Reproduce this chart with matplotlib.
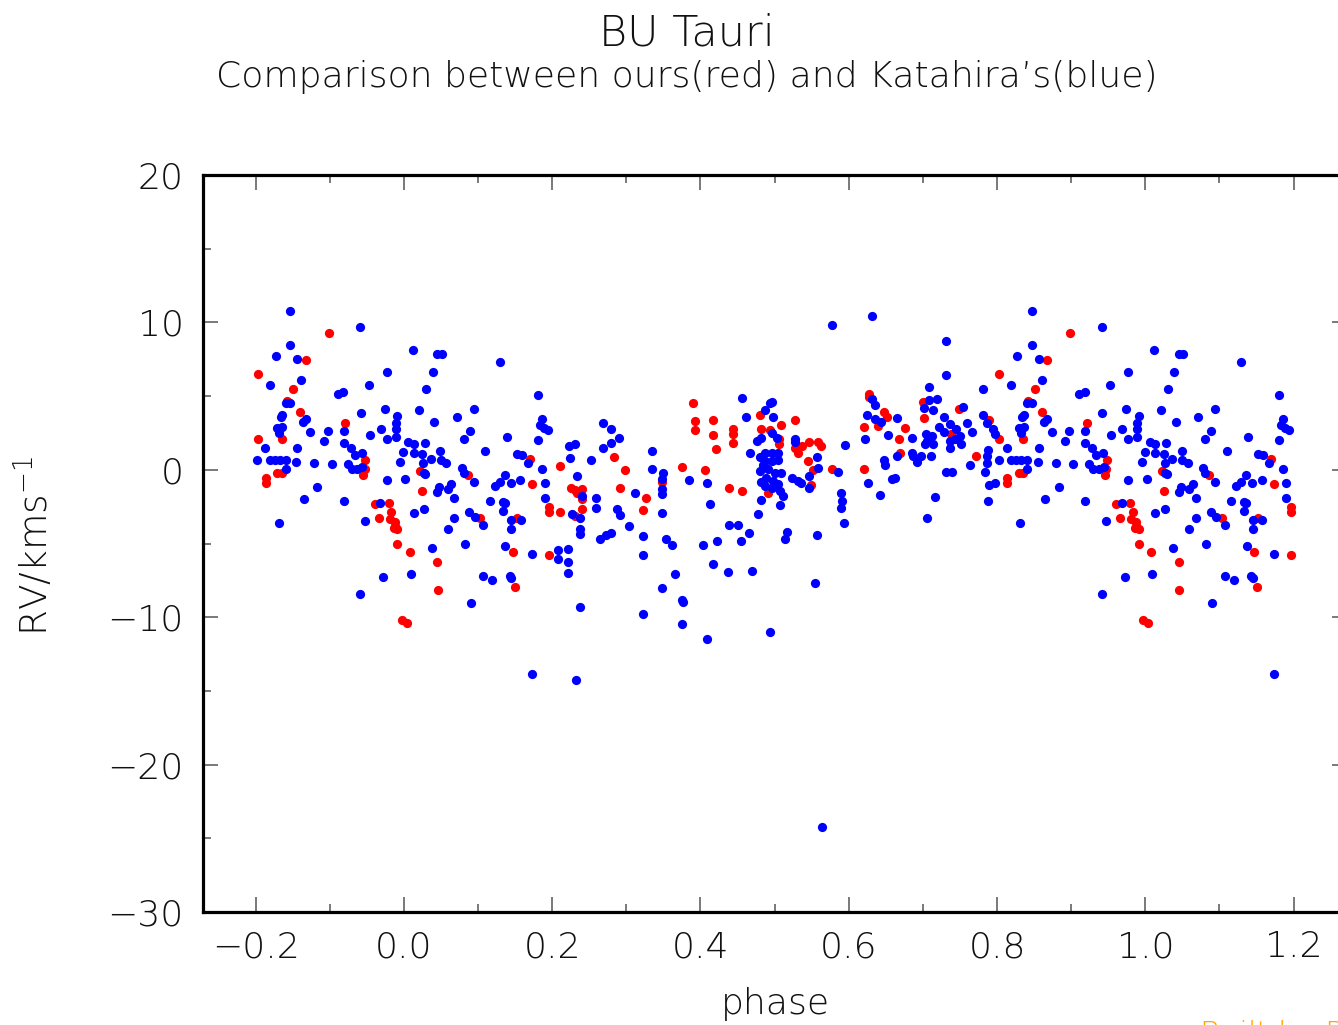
import numpy as np
import matplotlib
matplotlib.use("Agg")
import matplotlib.pyplot as plt
from matplotlib.ticker import MultipleLocator

plt.rcParams['font.family'] = ['DejaVu Sans']
plt.rcParams['font.weight'] = 'light'

# our measurements (phase, RV in km/s), one cycle 0..1
ours_phase = [0.170, 0.210, 0.022, 0.086, 0.025, 0.173, 0.225, 0.231, 0.234, 0.240,
              0.240, 0.240, 0.196, 0.196, 0.210, 0.231, 0.103, 0.152, 0.008, 0.045,
              0.147, 0.196, 0.046, 0.150, 0.004,
              0.390, 0.393, 0.393, 0.417, 0.417, 0.421, 0.444, 0.444, 0.444, 0.480,
              0.482, 0.284, 0.298, 0.375, 0.406, 0.292, 0.327, 0.323, 0.438, 0.456,
              0.348, 0.491,
              0.628, 0.628, 0.648, 0.651, 0.640, 0.620, 0.676, 0.668, 0.669, 0.620,
              0.700, 0.702, 0.738, 0.527, 0.509, 0.494, 0.506, 0.506, 0.527, 0.532,
              0.537, 0.547, 0.559, 0.562, 0.545, 0.552, 0.577, 0.549,
              0.899, 0.868, 0.803, 0.851, 0.842, 0.860, 0.749, 0.789, 0.921, 0.803,
              0.835, 0.771, 0.948, 0.947, 0.945, 0.814, 0.814, 0.829, 0.835, 0.961,
              0.966, 0.980, 0.983, 0.981, 0.988, 0.988, 0.991, 0.986, 0.991, 0.997]
ours_rv = [0.76, 0.26, -0.10, -0.37, -1.43, -0.98, -1.21, -1.37, -1.55, -1.32,
           -2.00, -2.63, -2.50, -2.86, -2.86, -3.13, -3.29, -3.24, -5.59, -6.27,
           -5.55, -5.75, -8.15, -7.92, -10.4,
           4.53, 3.31, 2.68, 3.40, 2.36, 1.43, 2.75, 2.45, 1.84, 3.72,
           2.79, 0.87, -0.03, 0.19, 0.01, -1.23, -1.93, -2.75, -1.21, -1.43,
           -0.82, -1.55,
           5.12, 4.96, 3.92, 3.60, 2.97, 2.90, 2.86, 2.11, 1.16, 0.08,
           4.60, 3.49, 2.41, 3.38, 3.06, 2.70, 2.07, 1.73, 1.46, 1.16,
           1.62, 1.91, 1.91, 1.62, 0.60, -0.01, 0.08, -1.05,
           9.30, 7.42, 6.52, 5.46, 4.67, 3.94, 4.10, 3.38, 3.20, 2.07,
           2.11, 0.94, 0.67, 0.03, -0.35, -0.53, -0.92, -0.19, -0.19, -2.34,
           -3.24, -2.27, -2.86, -3.36, -3.53, -3.81, -4.03, -3.92, -5.05, -10.2]

# Katahira's measurements
kat_phase = [0.012, 0.045, 0.051, 0.129, 0.039, 0.030, 0.181, 0.021, 0.094, 0.071,
             0.186, 0.183, 0.189, 0.194, 0.041, 0.089, 0.139, 0.081, 0.181, 0.006,
             0.013, 0.028, 0.013, 0.025, 0.036, 0.026, 0.049, 0.050, 0.057, 0.110,
             0.152, 0.159, 0.167, 0.223, 0.231, 0.224, 0.078, 0.081, 0.027, 0.029,
             0.002, 0.094, 0.123, 0.129, 0.136, 0.144, 0.157, 0.186, 0.190, 0.234,
             0.048, 0.045, 0.059, 0.064, 0.068, 0.116, 0.133, 0.136, 0.133, 0.190,
             0.240, 0.013, 0.027, 0.068, 0.088, 0.096, 0.107, 0.145, 0.158, 0.145,
             0.059, 0.227, 0.238, 0.238, 0.238, 0.082, 0.038, 0.137, 0.173, 0.208,
             0.208, 0.222, 0.222, 0.221, 0.009, 0.107, 0.119, 0.143, 0.145, 0.090,
             0.237, 0.173, 0.232,
             0.456, 0.487, 0.494, 0.461, 0.268, 0.280, 0.290, 0.280, 0.269, 0.252,
             0.335, 0.335, 0.349, 0.348, 0.348, 0.348, 0.348, 0.384, 0.409, 0.413,
             0.312, 0.259, 0.259, 0.288, 0.292, 0.303, 0.264, 0.273, 0.280, 0.322,
             0.322, 0.353, 0.362, 0.403, 0.422, 0.439, 0.450, 0.455, 0.466, 0.478,
             0.482, 0.417, 0.437, 0.470, 0.365, 0.348, 0.375, 0.377, 0.322, 0.375,
             0.409, 0.494, 0.467, 0.476, 0.482, 0.480, 0.484, 0.480, 0.482,
             0.496, 0.498, 0.496, 0.503, 0.487, 0.496, 0.504, 0.487, 0.496, 0.504,
             0.491, 0.500, 0.509, 0.489, 0.498, 0.505, 0.487, 0.496, 0.507, 0.512,
             0.507, 0.523, 0.532, 0.535, 0.528, 0.528, 0.557, 0.558, 0.547, 0.546,
             0.595, 0.585, 0.590, 0.591, 0.590, 0.594, 0.517, 0.514, 0.557, 0.554,
             0.564, 0.577, 0.632, 0.731, 0.731, 0.708, 0.631, 0.635, 0.624, 0.635,
             0.644, 0.665, 0.653, 0.622, 0.685, 0.701, 0.708, 0.719, 0.713, 0.728,
             0.722, 0.729, 0.737, 0.704, 0.712, 0.706, 0.703, 0.713, 0.736, 0.737,
             0.685, 0.686, 0.692, 0.698, 0.711, 0.665, 0.647, 0.649, 0.658, 0.663,
             0.626, 0.642, 0.717, 0.705, 0.731, 0.739,
             0.847, 0.941, 0.847, 0.827, 0.856, 0.861, 0.977, 0.819, 0.781, 0.953,
             0.911, 0.918, 0.841, 0.847, 0.754, 0.836, 0.834, 0.781, 0.787, 0.868,
             0.864, 0.974, 0.942, 0.991, 0.989, 0.989, 0.989, 0.759, 0.745, 0.750,
             0.743, 0.752, 0.766, 0.795, 0.797, 0.829, 0.836, 0.832, 0.874, 0.897,
             0.892, 0.919, 0.954, 0.969, 0.977, 0.919, 0.928, 0.934, 0.943, 0.813,
             0.856, 0.788, 0.786, 0.786, 0.784, 0.999, 0.995, 0.763, 0.802, 0.819,
             0.826, 0.833, 0.841, 0.841, 0.855, 0.879, 0.903, 0.924, 0.930, 0.937,
             0.944, 0.789, 0.797, 0.883, 0.977, 0.788, 0.865, 0.919, 0.968, 0.947,
             0.831, 0.972, 0.941]
kat_rv = [8.12, 7.83, 7.83, 7.33, 6.63, 5.46, 5.07, 4.06, 4.15, 3.58,
          3.42, 3.01, 2.85, 2.70, 3.24, 2.63, 2.23, 2.07, 2.00, 1.89,
          1.73, 1.80, 1.16, 1.07, 0.76, 0.49, 1.25, 0.64, 0.49, 1.25,
          1.05, 0.98, 0.49, 1.62, 1.75, 0.82, 0.10, -0.19, -0.19, -0.31,
          -0.60, -0.80, -1.10, -0.82, -0.37, -0.87, -0.71, 0.08, -0.92, -0.42,
          -1.14, -1.50, -1.32, -0.94, -1.93, -2.11, -2.18, -2.27, -2.79, -1.89,
          -1.77, -2.95, -2.63, -3.29, -2.84, -3.18, -3.76, -3.40, -3.40, -4.03,
          -4.01, -3.02, -3.29, -4.03, -4.37, -5.01, -5.32, -5.19, -5.68, -5.46,
          -6.07, -5.35, -6.25, -6.97, -7.04, -7.20, -7.47, -7.20, -7.33, -9.00,
          -9.28, -13.84, -14.25,
          4.87, 4.06, 4.55, 3.58, 3.15, 2.79, 2.18, 1.80, 1.46, 0.64,
          1.28, 0.03, -0.19, -0.64, -1.32, -1.66, -2.93, -0.69, -0.87, -2.29,
          -1.55, -1.89, -2.56, -2.63, -3.08, -3.81, -4.67, -4.44, -4.26, -4.49,
          -5.80, -4.71, -5.12, -5.08, -4.82, -3.72, -3.72, -4.82, -4.26, -3.02,
          -2.05, -6.41, -6.90, -6.86, -7.04, -8.01, -8.85, -8.96, -9.80, -10.47,
          -11.45, -10.97, 1.12, 1.95, 2.18, 0.87, 0.30, -0.08, -0.82,
          4.60, 3.60, 2.52, 2.18, 1.16, 1.16, 1.12, 0.60, 0.60, 0.67,
          0.03, -0.19, -0.24, -0.53, -0.76, -0.98, -1.10, -1.21, -1.43, -1.77,
          -2.41, -0.53, -0.76, -0.92, 2.09, 1.88, 0.87, 0.15, -0.42, -1.21,
          1.68, -0.15, -1.55, -2.11, -2.61, -3.58, -4.22, -4.67, -4.42, -7.70,
          -24.24, 9.86, 10.47, 8.73, 6.42, 5.63, 4.82, 4.37, 3.69, 3.42,
          3.27, 3.54, 2.34, 2.11, 2.18, 4.21, 4.73, 4.82, 4.06, 3.60,
          2.93, 2.56, 3.10, 2.40, 2.29, 1.95, 1.77, 1.73, 1.95, 1.50,
          1.12, 0.94, 0.53, 0.94, 0.94, 0.94, 0.67, 0.33, -0.64, -0.53,
          -0.87, -1.73, -1.82, -3.24, -0.12, -0.12,
          10.75, 9.71, 8.47, 7.72, 7.49, 6.09, 6.63, 5.73, 5.50, 5.73,
          5.14, 5.30, 4.55, 4.55, 4.28, 3.74, 3.60, 3.69, 3.15, 3.47,
          3.24, 4.10, 3.83, 3.65, 3.20, 2.75, 2.25, 3.15, 2.75, 2.29,
          2.07, 1.73, 2.59, 2.75, 2.41, 2.81, 2.93, 2.52, 2.59, 2.63,
          1.95, 2.63, 2.39, 2.75, 2.11, 1.80, 1.50, 1.00, 1.12, 1.50,
          1.46, 1.33, 0.94, 0.49, -0.12, 1.21, 0.53, 0.30, 0.67, 0.67,
          0.67, 0.67, 0.67, 0.08, 0.55, 0.44, 0.37, 0.39, 0.03, 0.03,
          0.19, -1.03, -0.87, -1.17, -0.67, -2.14, -2.00, -2.11, -2.27, -3.47,
          -3.61, -7.27, -8.44]


def unfold(phase, rv):
    # repeat the ends of the cycle so the plot runs from -0.2 to 1.2
    phase = np.asarray(phase)
    rv = np.asarray(rv)
    lo = phase >= 0.8
    hi = phase <= 0.2
    p = np.concatenate([phase[lo] - 1.0, phase, phase[hi] + 1.0])
    v = np.concatenate([rv[lo], rv, rv[hi]])
    return p, v


fig = plt.figure(figsize=(13.38, 10.25), dpi=100)
ax = fig.add_axes([0.1517, 0.1102, 0.855, 0.719])

p, v = unfold(ours_phase, ours_rv)
ax.scatter(p, v, s=44, c='#ff0000', linewidths=0, zorder=2)
p, v = unfold(kat_phase, kat_rv)
ax.scatter(p, v, s=44, c='#0000ff', linewidths=0, zorder=3)

ax.set_xlim(-0.271, 1.272)
ax.set_ylim(-30, 20)
ax.xaxis.set_major_locator(MultipleLocator(0.2))
ax.xaxis.set_minor_locator(MultipleLocator(0.1))
ax.yaxis.set_major_locator(MultipleLocator(10))
ax.yaxis.set_minor_locator(MultipleLocator(5))
ax.xaxis.set_major_formatter(plt.FuncFormatter(lambda x, _: f"{x:.1f}".replace('-', '\u2212')))

for s in ax.spines.values():
    s.set_linewidth(2.3)
ax.tick_params(which='both', direction='in', top=True, right=True,
               color='#555555', width=1.1, labelsize=26, labelcolor='#111111')
ax.tick_params(axis='x', which='major', length=11, pad=13)
ax.tick_params(axis='y', which='major', length=11, pad=14)
ax.tick_params(which='minor', length=6)

fig.text(0.513, 1 - 33 / 1025, 'BU Tauri', ha='center', va='center',
         fontsize=31, color='#111111')
fig.text(0.513, 1 - 77 / 1025, "Comparison between ours(red) and Katahira\u2019s(blue)",
         ha='center', va='center', fontsize=26, color='#111111')
fig.text(775 / 1338, 1 - 1004 / 1025, 'phase', ha='center', va='center',
         fontsize=26, color='#111111')
fig.text(33 / 1338, 1 - 546 / 1025, r'RV/kms$^{\mathregular{-1}}$',
         ha='center', va='center', rotation=90, fontsize=27, color='#111111')
fig.text(1200 / 1338, 1 - 1020 / 1025, 'Built by Plotter', ha='left', va='top',
         fontsize=22, color='#ffa500')

fig.savefig('out.png', dpi=100)
